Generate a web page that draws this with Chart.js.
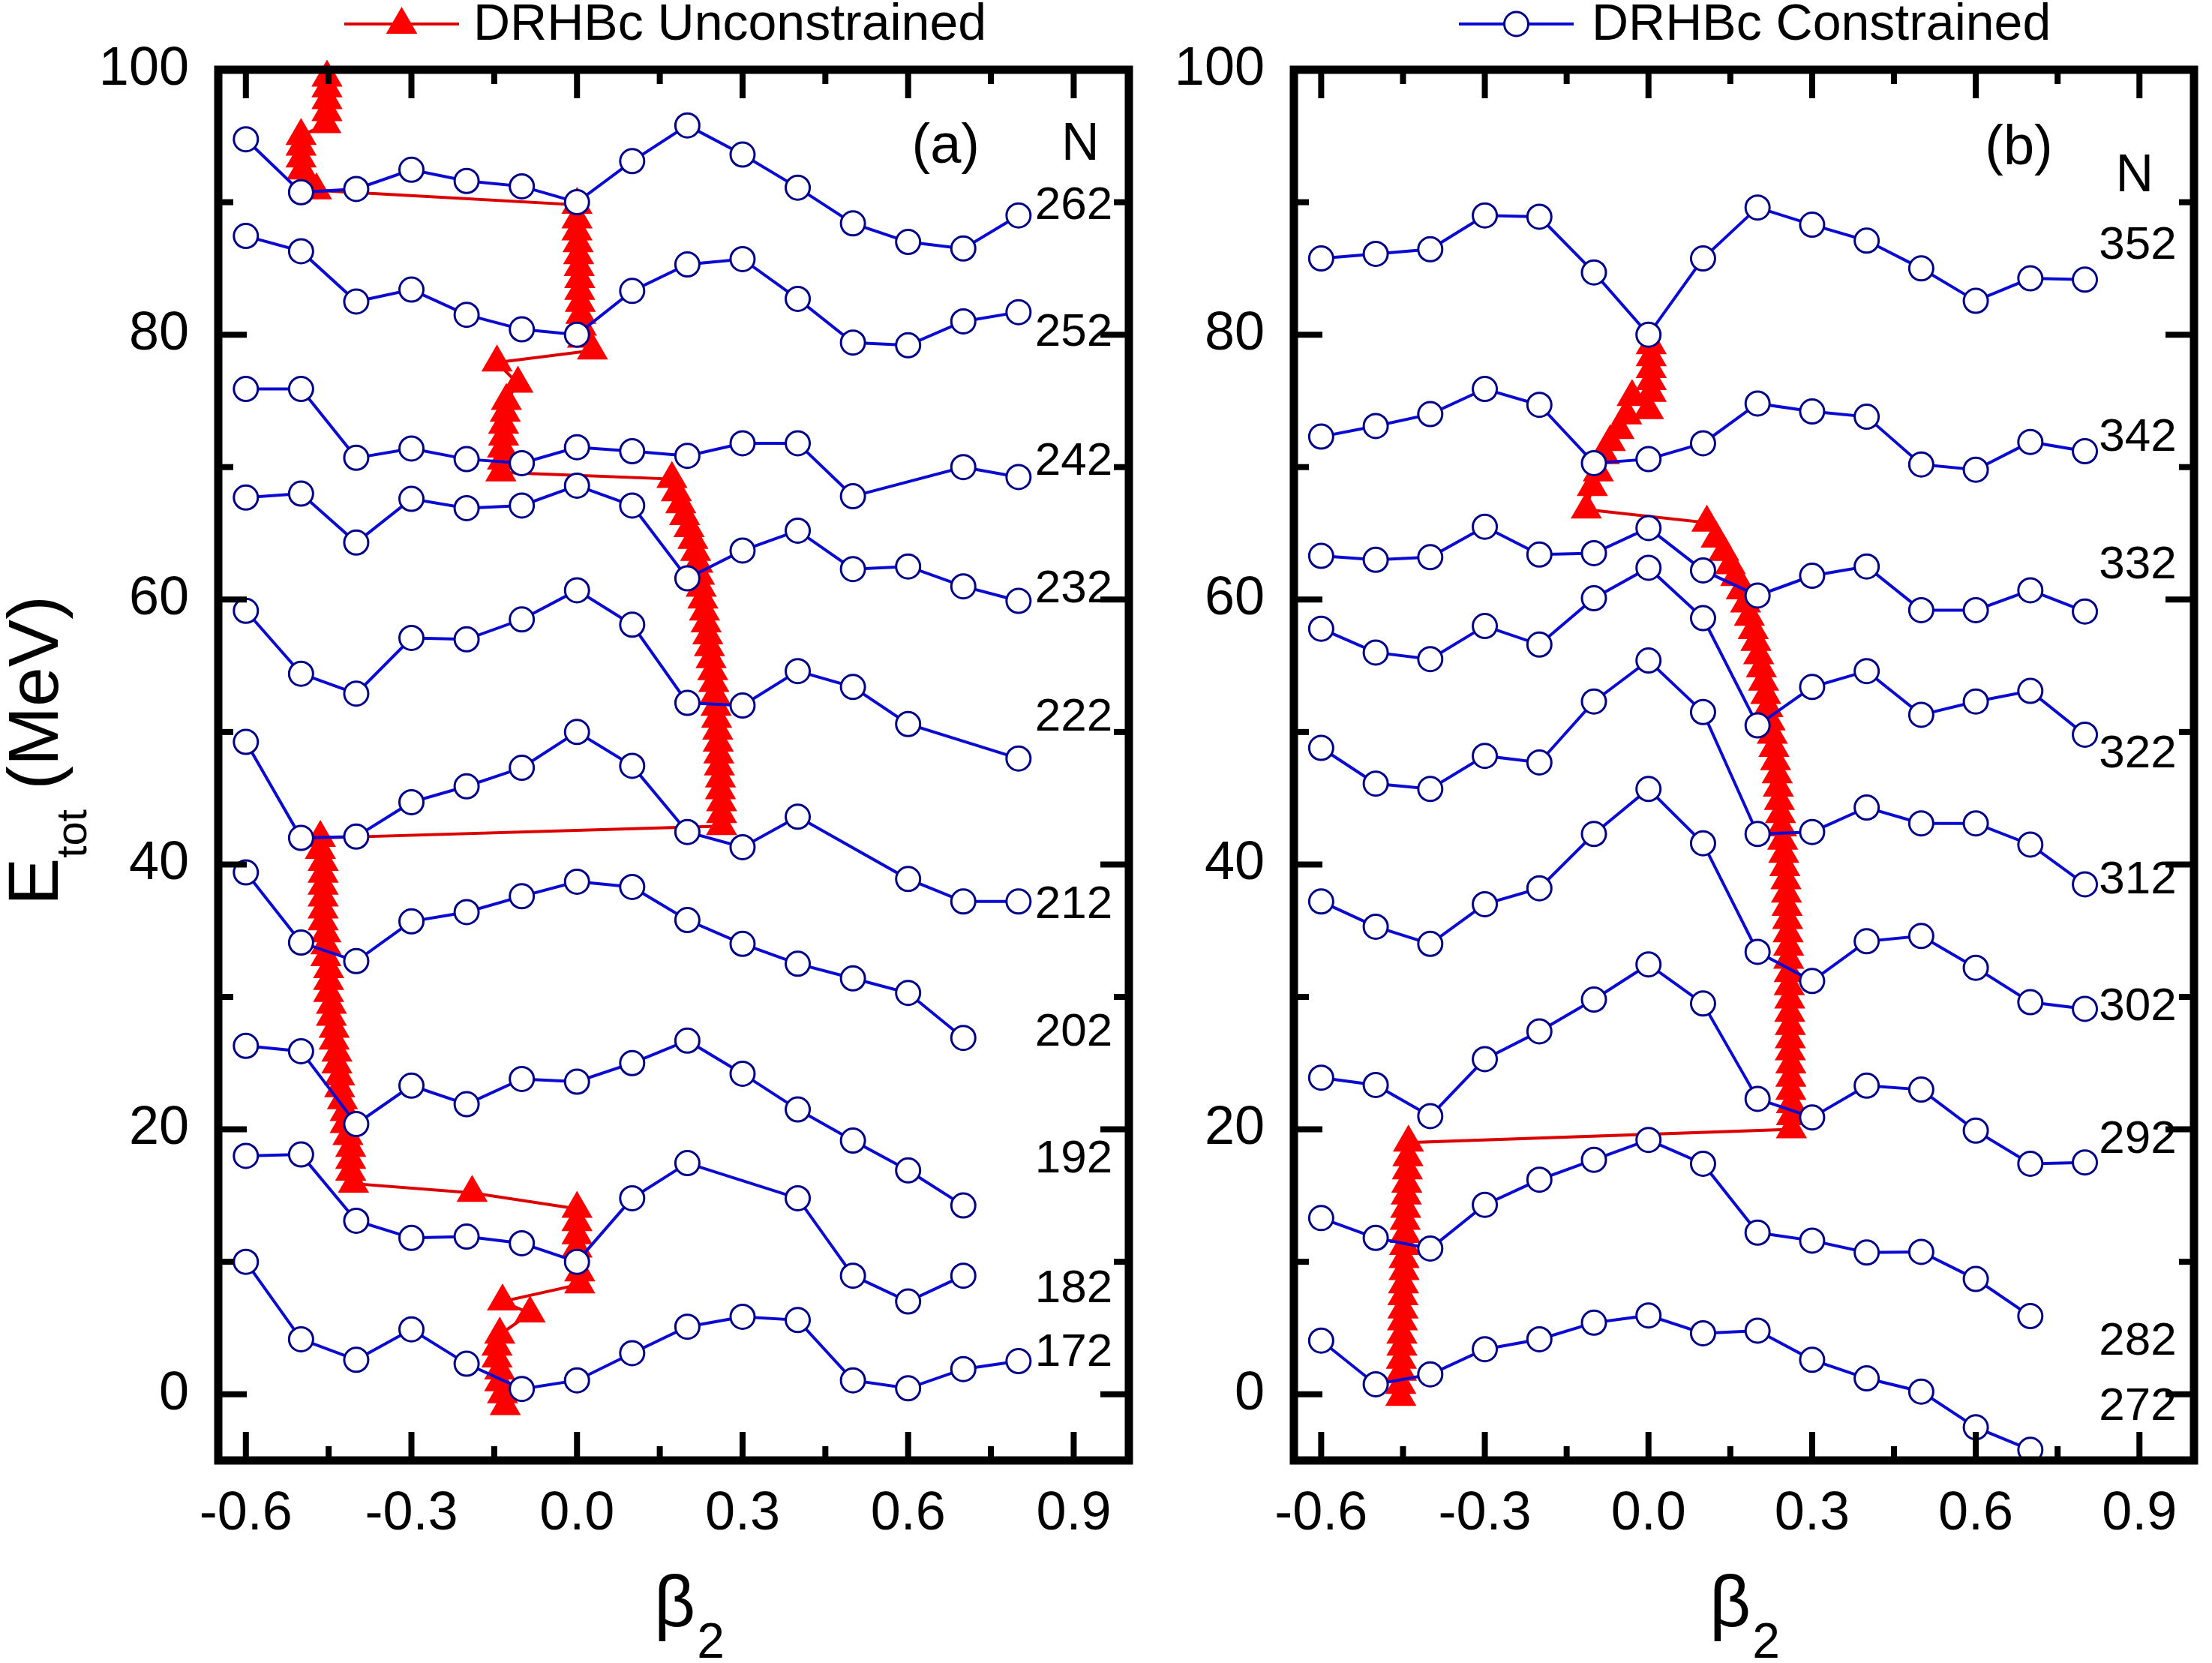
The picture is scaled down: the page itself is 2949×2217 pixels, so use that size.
<!DOCTYPE html>
<html>
<head>
<meta charset="utf-8">
<title>DRHBc potential energy curves</title>
<script src="https://cdn.jsdelivr.net/npm/chart.js@4.4.1/dist/chart.umd.min.js"></script>
<style>
  body { margin: 0; background: #ffffff; }
  #wrap { position: relative; width: 2949px; height: 2217px; }
  canvas { position: absolute; top: 0; }
</style>
</head>
<body>
<div id="wrap">
  <canvas id="panel-a" width="1540" height="2217" style="left:0;width:1540px;height:2217px"></canvas>
  <canvas id="panel-b" width="1409" height="2217" style="left:1540px;width:1409px;height:2217px"></canvas>
</div>
<script>
// beta2 grid used by every constrained curve
const betaGrid = [-0.6, -0.5, -0.4, -0.3, -0.2, -0.1, 0.0, 0.1, 0.2, 0.3, 0.4, 0.5, 0.6, 0.7, 0.8];

// panel (a): constrained curves, E_tot (MeV, shifted) on betaGrid
const a172 = [10.0, 4.15, 2.6, 4.9, 2.3, 0.4, 1.05, 3.1, 5.1, 5.85, 5.6, 1.05, 0.45, 1.9, 2.5];
const a182 = [18.0, 18.1, 13.1, 11.8, 11.9, 11.4, 10.0, 14.8, 17.45, null, 14.8, 8.95, 7.0, 8.95, null];
const a192 = [26.3, 25.9, 20.4, 23.3, 21.9, 23.8, 23.6, 25.0, 26.7, 24.2, 21.5, 19.15, 16.9, 14.25, null];
const a202 = [39.4, 34.1, 32.7, 35.7, 36.4, 37.6, 38.7, 38.3, 35.8, 34.0, 32.5, 31.4, 30.3, 26.9, null];
const a212 = [49.25, 42.0, 42.1, 44.7, 45.9, 47.3, 50.0, 47.45, 42.45, 41.3, 43.6, null, 38.9, 37.2, 37.2];
const a222 = [59.15, 54.4, 52.9, 57.1, 57.0, 58.5, 60.7, 58.1, 52.2, 52.0, 54.6, 53.4, 50.6, null, 48.0];
const a232 = [67.7, 68.0, 64.3, 67.6, 66.9, 67.1, 68.6, 67.1, 61.6, 63.7, 65.2, 62.3, 62.5, 61.0, 59.9];
const a242 = [75.9, 75.9, 70.7, 71.4, 70.6, 70.3, 71.5, 71.2, 70.85, 71.8, 71.8, 67.8, null, 70.0, 69.25];
const a252 = [87.45, 86.3, 82.5, 83.4, 81.5, 80.4, 80.0, 83.3, 85.3, 85.7, 82.7, 79.4, 79.2, 81.0, 81.7];
const a262 = [94.75, 90.75, 91.0, 92.45, 91.6, 91.2, 90.0, 93.1, 95.8, 93.6, 91.1, 88.4, 87.0, 86.5, 89.0];

// panel (b): constrained curves
const b272 = [4.05, 0.75, 1.5, 3.4, 4.15, 5.4, 5.95, 4.6, 4.8, 2.6, 1.2, 0.2, -2.5, -4.2, null];
const b282 = [13.3, 11.8, 11.0, 14.3, 16.2, 17.7, 19.2, 17.4, 12.2, 11.6, 10.7, 10.75, 8.7, 5.9, null];
const b292 = [23.9, 23.35, 21.0, 25.3, 27.4, 29.8, 32.45, 29.5, 22.3, 20.9, 23.3, 23.0, 19.9, 17.4, 17.5];
const b302 = [37.2, 35.3, 34.0, 37.0, 38.2, 42.3, 45.7, 41.6, 33.4, 31.2, 34.2, 34.6, 32.2, 29.6, 29.1];
const b312 = [48.8, 46.1, 45.7, 48.2, 47.7, 52.3, 55.4, 51.5, 42.3, 42.45, 44.3, 43.1, 43.1, 41.5, 38.5];
const b322 = [57.8, 56.0, 55.5, 58.0, 56.6, 60.1, 62.4, 58.6, 50.5, 53.4, 54.6, 51.3, 52.3, 53.1, 49.8];
const b332 = [63.3, 63.0, 63.2, 65.5, 63.4, 63.5, 65.4, 62.2, 60.3, 61.8, 62.5, 59.2, 59.2, 60.7, 59.1];
const b342 = [72.3, 73.1, 74.0, 75.9, 74.7, 70.3, 70.6, 71.8, 74.8, 74.2, 73.8, 70.2, 69.8, 71.9, 71.2];
const b352 = [85.75, 86.1, 86.45, 89.0, 88.9, 84.7, 80.0, 85.75, 89.6, 88.3, 87.1, 85.0, 82.55, 84.25, 84.15];

// unconstrained minima, panel (a), in order of N
const aRedBeta = [
  -0.13, -0.135, -0.14, -0.14, -0.145, -0.145, -0.14, -0.085, -0.135,
  0.005, 0.005, 0.0, 0.0, 0.0, 0.0,
  -0.19,
  -0.405, -0.41, -0.41, -0.41, -0.415, -0.42, -0.42, -0.425, -0.43, -0.43,
  -0.435, -0.435, -0.44, -0.44, -0.445, -0.445, -0.45, -0.45, -0.45, -0.455,
  -0.455, -0.455, -0.46, -0.46, -0.46, -0.46, -0.46, -0.46, -0.465, -0.465,
  0.262, 0.262, 0.262, 0.26, 0.26, 0.258, 0.257, 0.256, 0.255, 0.253,
  0.252, 0.25, 0.248, 0.246, 0.243, 0.24, 0.237, 0.234, 0.231, 0.228,
  0.225, 0.222, 0.219, 0.215, 0.21, 0.203, 0.195, 0.188, 0.18, 0.172,
  -0.138, -0.135, -0.135, -0.133, -0.133, -0.13, -0.128, -0.107, -0.145,
  0.028,
  0.01, 0.008, 0.007, 0.006, 0.005, 0.005, 0.004, 0.003, 0.002, 0.0, 0.0, 0.0,
  -0.472, -0.49, -0.498, -0.5, -0.5, -0.5, -0.455, -0.453, -0.453, -0.453, -0.453
];
const aRedE = [
  -0.9, 0.0, 0.9, 1.8, 2.7, 3.6, 4.5, 6.1, 7.0,
  8.3, 9.2, 11.0, 12.0, 13.0, 14.0,
  15.2,
  15.9, 16.8, 17.7, 18.6, 19.5, 20.4, 21.3, 22.2, 23.1, 24.0,
  24.9, 25.8, 26.7, 27.6, 28.5, 29.4, 30.3, 31.2, 32.1, 33.0,
  33.9, 34.8, 35.7, 36.6, 37.5, 38.4, 39.3, 40.2, 41.1, 42.0,
  42.9, 43.8, 44.7, 45.6, 46.5, 47.4, 48.3, 49.2, 50.1, 51.0,
  51.9, 52.8, 53.7, 54.6, 55.5, 56.4, 57.3, 58.2, 59.1, 60.0,
  60.9, 61.8, 62.7, 63.6, 64.5, 65.4, 66.3, 67.2, 68.1, 69.1,
  69.6, 70.5, 71.4, 72.3, 73.2, 74.1, 75.0, 76.3, 77.9,
  78.8,
  79.7, 80.6, 81.5, 82.4, 83.3, 84.2, 85.1, 86.0, 86.9, 87.8, 88.7, 89.8,
  90.9, 91.6, 92.4, 93.3, 94.2, 95.0, 95.9, 96.8, 97.7, 98.6, 99.4
];

// unconstrained minima, panel (b)
const bRedBeta = [
  -0.454, -0.454, -0.453, -0.453, -0.452, -0.452, -0.451, -0.45, -0.45, -0.449, -0.448,
  -0.448, -0.447, -0.446, -0.446, -0.445, -0.444, -0.443, -0.442, -0.441, -0.44,
  0.262, 0.262, 0.262, 0.261, 0.261, 0.261, 0.26, 0.26, 0.26, 0.259,
  0.259, 0.258, 0.258, 0.257, 0.257, 0.256, 0.255, 0.254, 0.253, 0.252,
  0.25, 0.248, 0.246, 0.244, 0.242, 0.24, 0.238, 0.236, 0.233, 0.23,
  0.227, 0.223, 0.219, 0.215, 0.211, 0.207, 0.202, 0.197, 0.192, 0.185,
  0.178, 0.17, 0.16, 0.15, 0.138, 0.124, 0.107,
  -0.114, -0.103, -0.092, -0.081, -0.07, -0.054, -0.04, -0.03,
  0.0, 0.005, 0.005, 0.005, 0.005, 0.005
];
const bRedE = [
  -0.2, 0.7, 1.7, 2.6, 3.6, 4.5, 5.5, 6.4, 7.4, 8.3, 9.3,
  10.2, 11.2, 12.1, 13.1, 14.0, 15.0, 15.9, 16.9, 17.9, 19.0,
  20.0, 21.0, 21.9, 22.9, 23.9, 24.9, 25.9, 26.8, 27.8, 28.8,
  29.8, 30.8, 31.8, 32.8, 33.8, 34.8, 35.8, 36.8, 37.8, 38.8,
  39.8, 40.8, 41.8, 42.8, 43.8, 44.8, 45.8, 46.8, 47.8, 48.8,
  49.8, 50.8, 51.8, 52.8, 53.8, 54.8, 55.8, 56.8, 57.7, 58.7,
  59.7, 60.7, 61.7, 62.6, 63.6, 64.6, 65.8,
  66.8, 68.5, 69.6, 70.9, 71.9, 72.8, 73.9, 75.3,
  74.3, 75.6, 76.5, 77.4, 78.3, 79.2
];

// N labels next to each curve
const aNLabels = ['172', '182', '192', '202', '212', '222', '232', '242', '252', '262'];
const aNLabelE = [3.1, 7.9, 17.7, 27.3, 36.9, 51.1, 60.75, 70.4, 80.1, 89.7];
const bNLabels = ['272', '282', '292', '302', '312', '322', '332', '342', '352'];
const bNLabelE = [-1.0, 3.96, 19.2, 29.2, 38.8, 48.3, 62.55, 72.2, 86.7];

// axis ticks
const xMajorTicks = [-0.6, -0.3, 0.0, 0.3, 0.6, 0.9];
const xMinorTicks = [-0.45, -0.15, 0.15, 0.45, 0.75];
const yMajorTicks = [0, 20, 40, 60, 80, 100];
const yMinorTicks = [10, 30, 50, 70, 90];

const FONT = '"Liberation Sans", Arial, sans-serif';
const BLUE = '#0a0ad2';
const NAVY = '#000088';
const RED = '#ff0000';

function curveDataset(values) {
  return {
    data: betaGrid.map((b, i) => ({ x: b, y: values[i] })),
    spanGaps: true,
    borderColor: BLUE,
    borderWidth: 4,
    pointStyle: 'circle',
    pointRadius: 16,
    pointBorderWidth: 3,
    pointBorderColor: NAVY,
    pointBackgroundColor: '#ffffff',
    clip: false
  };
}

function redDataset(betas, energies) {
  const n = Math.min(betas.length, energies.length);
  const pts = [];
  for (let i = 0; i < n; i++) pts.push({ x: betas[i], y: energies[i] });
  return {
    data: pts,
    borderColor: '#dd0000',
    borderWidth: 4,
    pointStyle: 'triangle',
    pointRadius: 24,
    pointBorderWidth: 0,
    pointBorderColor: RED,
    pointBackgroundColor: RED,
    clip: false
  };
}

function strokeLine(ctx, x1, y1, x2, y2) {
  ctx.beginPath();
  ctx.moveTo(x1, y1);
  ctx.lineTo(x2, y2);
  ctx.stroke();
}

// frame, inward ticks, tick labels, titles, legend and annotations
const framePlugin = {
  id: 'frame',
  afterDatasetsDraw(chart, args, opts) {
    const { ctx, chartArea: a, scales: { x, y } } = chart;
    ctx.save();
    ctx.strokeStyle = '#000';
    ctx.fillStyle = '#000';
    ctx.lineWidth = 8;

    xMajorTicks.forEach(v => {
      const px = x.getPixelForValue(v);
      strokeLine(ctx, px, a.bottom, px, a.bottom - 38);
      strokeLine(ctx, px, a.top, px, a.top + 38);
    });
    xMinorTicks.forEach(v => {
      const px = x.getPixelForValue(v);
      strokeLine(ctx, px, a.bottom, px, a.bottom - 19);
      strokeLine(ctx, px, a.top, px, a.top + 19);
    });
    yMajorTicks.forEach(v => {
      const py = y.getPixelForValue(v);
      strokeLine(ctx, a.left, py, a.left + 38, py);
      strokeLine(ctx, a.right, py, a.right - 38, py);
    });
    yMinorTicks.forEach(v => {
      const py = y.getPixelForValue(v);
      strokeLine(ctx, a.left, py, a.left + 20, py);
      strokeLine(ctx, a.right, py, a.right - 20, py);
    });

    ctx.lineWidth = 11;
    ctx.strokeRect(a.left, a.top, a.right - a.left, a.bottom - a.top);

    // tick labels
    ctx.font = '72px ' + FONT;
    ctx.textAlign = 'center';
    ctx.textBaseline = 'middle';
    xMajorTicks.forEach(v => {
      ctx.fillText(v.toFixed(1), x.getPixelForValue(v), a.bottom + 72);
    });
    ctx.textAlign = 'right';
    yMajorTicks.forEach(v => {
      ctx.fillText(String(v), a.left - 39, y.getPixelForValue(v));
    });

    // x title: beta with subscript 2
    ctx.textAlign = 'left';
    ctx.textBaseline = 'alphabetic';
    ctx.font = '96px ' + FONT;
    ctx.fillText('β', opts.xTitleLeft, 2168);
    const wb = ctx.measureText('β').width;
    ctx.font = '66px ' + FONT;
    ctx.fillText('2', opts.xTitleLeft + wb + 2, 2210);

    // y title, only on the left panel
    if (opts.yTitle) {
      ctx.save();
      ctx.translate(77, 1207);
      ctx.rotate(-Math.PI / 2);
      ctx.font = '95px ' + FONT;
      ctx.fillText('E', 0, 0);
      const wE = ctx.measureText('E').width;
      ctx.font = '58px ' + FONT;
      ctx.fillText('tot', wE, 38);
      const wt = ctx.measureText('tot').width;
      ctx.font = '95px ' + FONT;
      const ws = ctx.measureText(' ').width;
      ctx.fillText('(MeV)', wE + wt + ws, 0);
      ctx.restore();
    }

    // panel letter and N column
    ctx.textAlign = 'center';
    ctx.textBaseline = 'middle';
    ctx.font = '74px ' + FONT;
    ctx.fillText(opts.letter, x.getPixelForValue(opts.letterAt[0]), y.getPixelForValue(opts.letterAt[1]));
    ctx.font = '70px ' + FONT;
    ctx.fillText('N', x.getPixelForValue(opts.nAt[0]), y.getPixelForValue(opts.nAt[1]));
    ctx.font = '62px ' + FONT;
    opts.labels.forEach((t, i) => {
      ctx.fillText(t, x.getPixelForValue(opts.labelBeta), y.getPixelForValue(opts.labelE[i]));
    });

    // legend entry above the panel
    const lg = opts.legend;
    ctx.lineWidth = 4;
    ctx.strokeStyle = lg.marker === 'triangle' ? '#dd0000' : BLUE;
    strokeLine(ctx, lg.x1, 32, lg.x2, 32);
    const cx = (lg.x1 + lg.x2) / 2;
    if (lg.marker === 'triangle') {
      const r = 24;
      ctx.fillStyle = RED;
      ctx.beginPath();
      ctx.moveTo(cx, 33 - r);
      ctx.lineTo(cx + r * Math.sin(2 * Math.PI / 3), 33 + r / 2);
      ctx.lineTo(cx - r * Math.sin(2 * Math.PI / 3), 33 + r / 2);
      ctx.closePath();
      ctx.fill();
    } else {
      ctx.fillStyle = '#ffffff';
      ctx.strokeStyle = NAVY;
      ctx.lineWidth = 3;
      ctx.beginPath();
      ctx.arc(cx, 32, 16, 0, Math.PI * 2);
      ctx.fill();
      ctx.stroke();
    }
    ctx.fillStyle = '#000';
    ctx.font = '68px ' + FONT;
    ctx.textAlign = 'left';
    ctx.textBaseline = 'middle';
    ctx.fillText(lg.text, lg.textX, 34);

    ctx.restore();
  }
};

function makePanel(canvasId, curves, red, padding, frameOpts) {
  const datasets = curves.map(curveDataset);
  datasets.push(red); // last dataset is drawn first, so it sits under the circles
  return new Chart(document.getElementById(canvasId), {
    type: 'line',
    data: { datasets: datasets },
    options: {
      responsive: false,
      devicePixelRatio: 1,
      animation: false,
      events: [],
      layout: { padding: padding },
      scales: {
        x: { type: 'linear', min: -0.65, max: 1.0, display: false },
        y: { type: 'linear', min: -5, max: 100, display: false }
      },
      plugins: {
        legend: { display: false },
        tooltip: { enabled: false },
        frame: frameOpts
      }
    },
    plugins: [framePlugin]
  });
}

makePanel('panel-a',
  [a172, a182, a192, a202, a212, a222, a232, a242, a252, a262],
  redDataset(aRedBeta, aRedE),
  { left: 291, right: 35, top: 93, bottom: 270 },
  {
    yTitle: true,
    xTitleLeft: 872,
    letter: '(a)', letterAt: [0.668, 94.15],
    nAt: [0.912, 94.3],
    labels: aNLabels, labelE: aNLabelE, labelBeta: 0.9,
    legend: { marker: 'triangle', x1: 459, x2: 612, textX: 631, text: 'DRHBc Unconstrained' }
  });

makePanel('panel-b',
  [b272, b282, b292, b302, b312, b322, b332, b342, b352],
  redDataset(bRedBeta, bRedE),
  { left: 185, right: 11, top: 93, bottom: 270 },
  {
    yTitle: false,
    xTitleLeft: 739,
    letter: '(b)', letterAt: [0.679, 94.0],
    nAt: [0.891, 91.9],
    labels: bNLabels, labelE: bNLabelE, labelBeta: 0.897,
    legend: { marker: 'circle', x1: 405, x2: 558, textX: 582, text: 'DRHBc Constrained' }
  });
</script>
</body>
</html>
